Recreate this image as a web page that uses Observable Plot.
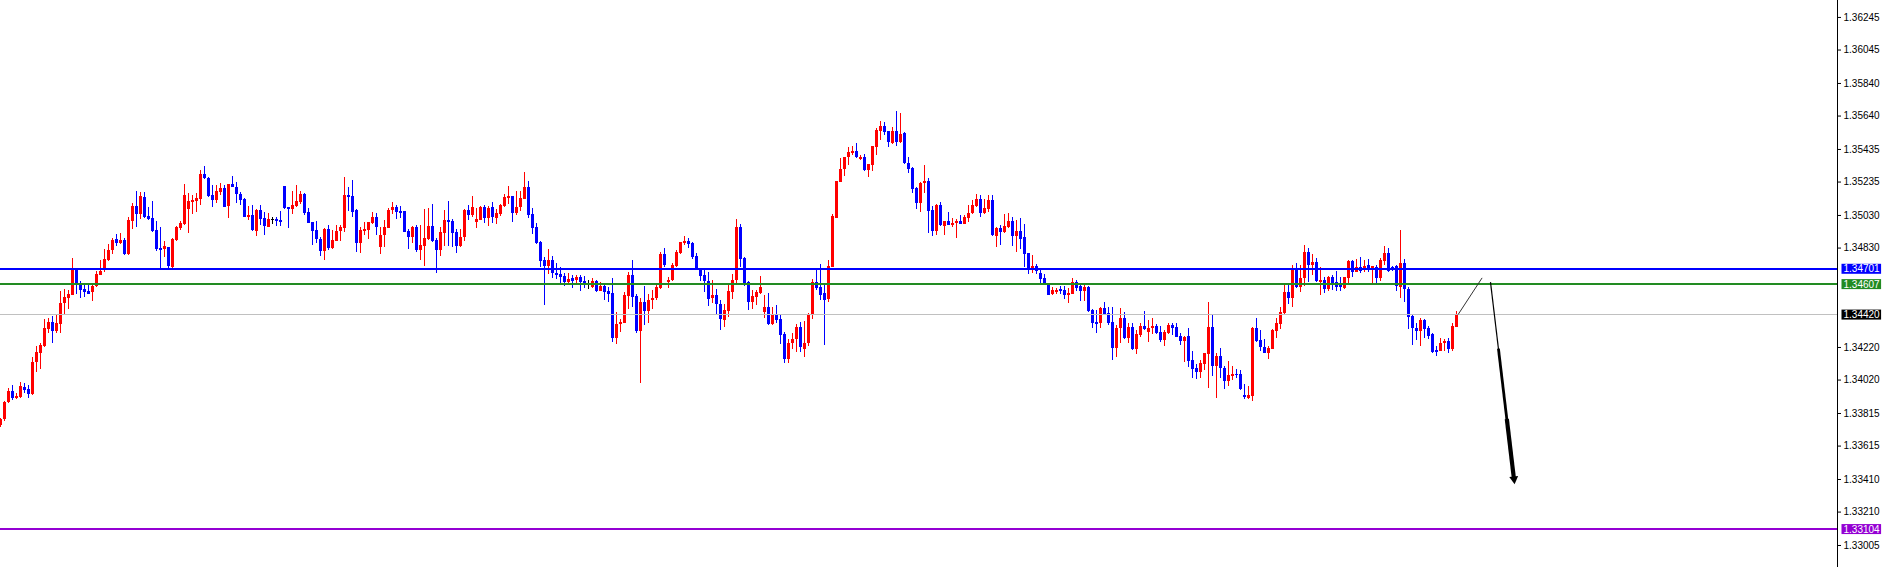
<!DOCTYPE html>
<html><head><meta charset="utf-8">
<script src="https://cdn.jsdelivr.net/npm/d3@7"></script>
<script src="https://cdn.jsdelivr.net/npm/@observablehq/plot@0.6"></script>
<style>html,body{margin:0;padding:0;background:#fff;overflow:hidden}svg{display:block}</style>
</head><body><div id="chart"></div>
<script>
const open = [
1.33742,1.33777,1.33881,1.33950,1.33908,1.33916,1.33973,1.33963,1.33930,1.34126,
1.34186,1.34229,1.34333,1.34374,1.34321,1.34362,1.34488,1.34521,1.34541,1.34699,
1.34611,1.34576,1.34564,1.34560,1.34595,1.34664,1.34703,1.34754,1.34815,1.34881,
1.34856,1.34877,1.34791,1.34993,1.35085,1.35036,1.35143,1.35024,1.35012,1.34938,
1.34828,1.34822,1.34832,1.34713,1.34877,1.34950,1.34975,1.35067,1.35112,1.35116,
1.35128,1.35282,1.35257,1.35153,1.35122,1.35173,1.35198,1.35085,1.35220,1.35204,
1.35159,1.35128,1.35020,1.35030,1.34934,1.35061,1.35012,1.34959,1.35004,1.35004,
1.35000,1.35208,1.35077,1.35067,1.35087,1.35111,1.35158,1.35048,1.34985,1.34937,
1.34882,1.34811,1.34944,1.34829,1.34872,1.34933,1.34952,1.35152,1.35146,1.35060,
1.34860,1.34933,1.34937,1.34982,1.35015,1.34835,1.34907,1.34952,1.35060,1.35077,
1.35054,1.35054,1.34933,1.34897,1.34956,1.34815,1.34839,1.34880,1.34962,1.34876,
1.34815,1.34921,1.34999,1.34995,1.34925,1.34839,1.34893,1.35060,1.35032,1.34989,
1.34999,1.35079,1.35009,1.35077,1.35013,1.35036,1.35085,1.35136,1.35146,1.35044,
1.35077,1.35130,1.35201,1.35036,1.34954,1.34864,1.34753,1.34717,1.34754,1.34676,
1.34668,1.34656,1.34619,1.34646,1.34631,1.34650,1.34625,1.34605,1.34591,1.34625,
1.34566,1.34595,1.34564,1.34550,1.34276,1.34364,1.34370,1.34533,1.34662,1.34535,
1.34317,1.34496,1.34441,1.34509,1.34521,1.34582,1.34791,1.34621,1.34631,1.34717,
1.34795,1.34860,1.34873,1.34858,1.34779,1.34697,1.34664,1.34625,1.34523,1.34539,
1.34486,1.34388,1.34443,1.34560,1.34631,1.34957,1.34768,1.34619,1.34499,1.34529,
1.34554,1.34437,1.34466,1.34364,1.34423,1.34394,1.34300,1.34145,1.34243,1.34267,
1.34340,1.34207,1.34242,1.34416,1.34620,1.34586,1.34549,1.34516,1.34712,1.35013,
1.35234,1.35310,1.35383,1.35408,1.35422,1.35373,1.35385,1.35306,1.35338,1.35449,
1.35545,1.35575,1.35543,1.35473,1.35545,1.35477,1.35530,1.35351,1.35318,1.35195,
1.35105,1.35224,1.35240,1.35060,1.34931,1.35091,1.34964,1.34995,1.34970,1.34980,
1.34993,1.34976,1.35011,1.35040,1.35085,1.35128,1.35040,1.35068,1.35124,1.34903,
1.34952,1.34927,1.34958,1.34991,1.34903,1.34931,1.34894,1.34796,1.34692,1.34719,
1.34676,1.34641,1.34604,1.34545,1.34557,1.34576,1.34569,1.34539,1.34545,1.34619,
1.34592,1.34563,1.34588,1.34447,1.34373,1.34369,1.34459,1.34428,1.34373,1.34216,
1.34336,1.34398,1.34277,1.34342,1.34208,1.34295,1.34349,1.34314,1.34334,1.34349,
1.34312,1.34265,1.34304,1.34355,1.34342,1.34287,1.34259,1.34287,1.34140,1.34091,
1.34066,1.34118,1.34179,1.34342,1.34105,1.34165,1.34091,1.34013,1.34044,1.34056,
1.34054,1.33925,1.33909,1.33921,1.34336,1.34263,1.34222,1.34185,1.34210,1.34320,
1.34363,1.34426,1.34557,1.34522,1.34700,1.34586,1.34643,1.34803,1.34721,1.34741,
1.34621,1.34631,1.34576,1.34647,1.34619,1.34602,1.34584,1.34643,1.34747,1.34682,
1.34713,1.34692,1.34721,1.34704,1.34711,1.34645,1.34749,1.34799,1.34709,1.34717,
1.34590,1.34737,1.34578,1.34410,1.34336,1.34320,1.34385,1.34336,1.34298,1.34201,
1.34197,1.34242,1.34257,1.34205,1.34345];
const high = [
1.33783,1.33891,1.33971,1.33987,1.33936,1.34006,1.33997,1.33987,1.34161,1.34227,
1.34243,1.34390,1.34396,1.34411,1.34415,1.34562,1.34576,1.34570,1.34766,1.34703,
1.34623,1.34605,1.34603,1.34605,1.34687,1.34754,1.34824,1.34850,1.34889,1.34914,
1.34918,1.34887,1.35020,1.35106,1.35177,1.35169,1.35173,1.35081,1.35116,1.34993,
1.34959,1.34873,1.34836,1.34889,1.34963,1.34993,1.35220,1.35167,1.35155,1.35163,
1.35306,1.35331,1.35265,1.35216,1.35214,1.35224,1.35214,1.35220,1.35269,1.35233,
1.35173,1.35137,1.35085,1.35091,1.35065,1.35089,1.35049,1.35040,1.35020,1.35020,
1.35055,1.35208,1.35077,1.35177,1.35214,1.35177,1.35167,1.35072,1.34985,1.34995,
1.34897,1.34952,1.34968,1.34937,1.34968,1.34968,1.35265,1.35203,1.35244,1.35066,
1.34954,1.34985,1.34987,1.35048,1.35040,1.34958,1.34999,1.35070,1.35109,1.35091,
1.35085,1.35054,1.34942,1.34962,1.34968,1.34968,1.35066,1.35070,1.35097,1.34886,
1.34958,1.35060,1.35115,1.35003,1.34944,1.34944,1.35068,1.35089,1.35146,1.35072,
1.35083,1.35091,1.35085,1.35109,1.35066,1.35097,1.35156,1.35207,1.35146,1.35175,
1.35175,1.35293,1.35238,1.35072,1.34978,1.34870,1.34774,1.34822,1.34779,1.34734,
1.34713,1.34672,1.34672,1.34662,1.34660,1.34660,1.34656,1.34631,1.34644,1.34631,
1.34619,1.34603,1.34591,1.34644,1.34433,1.34390,1.34560,1.34683,1.34754,1.34546,
1.34521,1.34595,1.34546,1.34570,1.34603,1.34805,1.34828,1.34652,1.34734,1.34815,
1.34865,1.34903,1.34889,1.34867,1.34799,1.34701,1.34693,1.34681,1.34631,1.34576,
1.34509,1.34484,1.34605,1.34668,1.35006,1.34977,1.34775,1.34627,1.34570,1.34570,
1.34656,1.34539,1.34550,1.34468,1.34478,1.34415,1.34314,1.34267,1.34308,1.34361,
1.34375,1.34379,1.34426,1.34637,1.34692,1.34729,1.34600,1.34753,1.35034,1.35238,
1.35381,1.35383,1.35449,1.35455,1.35473,1.35396,1.35402,1.35342,1.35455,1.35561,
1.35604,1.35598,1.35547,1.35571,1.35668,1.35657,1.35537,1.35387,1.35326,1.35199,
1.35232,1.35336,1.35256,1.35085,1.35095,1.35109,1.34993,1.35048,1.35011,1.35003,
1.35032,1.35032,1.35089,1.35121,1.35158,1.35154,1.35126,1.35154,1.35154,1.34958,
1.34968,1.35036,1.35040,1.35019,1.34999,1.35009,1.34974,1.34796,1.34784,1.34727,
1.34692,1.34668,1.34610,1.34590,1.34580,1.34592,1.34592,1.34580,1.34643,1.34629,
1.34606,1.34600,1.34594,1.34451,1.34447,1.34463,1.34496,1.34463,1.34463,1.34357,
1.34459,1.34435,1.34369,1.34369,1.34324,1.34369,1.34441,1.34385,1.34398,1.34359,
1.34349,1.34324,1.34369,1.34369,1.34369,1.34308,1.34287,1.34336,1.34193,1.34118,
1.34140,1.34183,1.34496,1.34422,1.34181,1.34214,1.34103,1.34134,1.34103,1.34085,
1.34079,1.33993,1.33981,1.34345,1.34398,1.34324,1.34267,1.34226,1.34328,1.34398,
1.34463,1.34600,1.34604,1.34723,1.34733,1.34723,1.34846,1.34825,1.34790,1.34764,
1.34709,1.34647,1.34655,1.34662,1.34686,1.34651,1.34651,1.34754,1.34754,1.34758,
1.34774,1.34754,1.34760,1.34717,1.34723,1.34764,1.34839,1.34825,1.34717,1.34725,
1.34938,1.34758,1.34586,1.34422,1.34369,1.34400,1.34390,1.34349,1.34304,1.34226,
1.34273,1.34267,1.34273,1.34365,1.34443];
const low = [
1.33732,1.33768,1.33875,1.33895,1.33899,1.33905,1.33940,1.33905,1.33926,1.34069,
1.34087,1.34222,1.34308,1.34247,1.34304,1.34304,1.34423,1.34451,1.34537,1.34546,
1.34523,1.34529,1.34544,1.34505,1.34591,1.34660,1.34683,1.34750,1.34791,1.34840,
1.34852,1.34785,1.34787,1.34946,1.34955,1.35008,1.35010,1.35000,1.34926,1.34811,
1.34701,1.34775,1.34705,1.34703,1.34873,1.34938,1.34971,1.34920,1.35034,1.35051,
1.35094,1.35251,1.35143,1.35081,1.35102,1.35153,1.35077,1.35012,1.35204,1.35106,
1.35092,1.35016,1.35000,1.34932,1.34901,1.34967,1.34907,1.34955,1.34975,1.34963,
1.34963,1.35065,1.34950,1.35036,1.35081,1.35097,1.35030,1.34978,1.34845,1.34856,
1.34778,1.34753,1.34815,1.34821,1.34870,1.34872,1.34927,1.35054,1.35019,1.34805,
1.34798,1.34907,1.34882,1.34974,1.34907,1.34792,1.34835,1.34948,1.35036,1.35005,
1.35013,1.34923,1.34821,1.34856,1.34803,1.34753,1.34717,1.34876,1.34866,1.34672,
1.34778,1.34839,1.34839,1.34835,1.34798,1.34831,1.34872,1.34999,1.35015,1.34950,
1.34999,1.34978,1.34962,1.34982,1.34974,1.35023,1.35081,1.35097,1.34989,1.35027,
1.35056,1.35126,1.35011,1.34913,1.34852,1.34708,1.34477,1.34668,1.34642,1.34636,
1.34615,1.34595,1.34615,1.34584,1.34611,1.34564,1.34584,1.34578,1.34584,1.34558,
1.34564,1.34509,1.34496,1.34251,1.34239,1.34312,1.34366,1.34454,1.34468,1.34308,
1.34002,1.34355,1.34368,1.34454,1.34509,1.34578,1.34713,1.34584,1.34627,1.34713,
1.34791,1.34846,1.34826,1.34762,1.34693,1.34625,1.34560,1.34474,1.34488,1.34423,
1.34325,1.34345,1.34406,1.34515,1.34611,1.34713,1.34595,1.34447,1.34456,1.34476,
1.34544,1.34400,1.34355,1.34355,1.34370,1.34239,1.34124,1.34124,1.34210,1.34191,
1.34191,1.34160,1.34226,1.34389,1.34569,1.34508,1.34232,1.34496,1.34712,1.35013,
1.35234,1.35269,1.35338,1.35398,1.35379,1.35367,1.35301,1.35265,1.35301,1.35398,
1.35490,1.35522,1.35445,1.35465,1.35453,1.35469,1.35340,1.35285,1.35162,1.35068,
1.35050,1.35162,1.34921,1.34903,1.34905,1.34962,1.34907,1.34966,1.34958,1.34890,
1.34974,1.34972,1.34987,1.35036,1.35081,1.35019,1.35034,1.35048,1.34901,1.34835,
1.34845,1.34921,1.34948,1.34841,1.34805,1.34821,1.34712,1.34665,1.34676,1.34665,
1.34610,1.34598,1.34539,1.34539,1.34545,1.34545,1.34514,1.34492,1.34545,1.34563,
1.34504,1.34504,1.34437,1.34338,1.34308,1.34338,1.34420,1.34357,1.34142,1.34160,
1.34246,1.34269,1.34242,1.34201,1.34179,1.34283,1.34324,1.34250,1.34298,1.34302,
1.34253,1.34226,1.34300,1.34295,1.34279,1.34234,1.34130,1.34099,1.34032,1.34026,
1.34032,1.34079,1.33970,1.34042,1.33909,1.34032,1.33962,1.33983,1.34017,1.34032,
1.33956,1.33903,1.33903,1.33891,1.34250,1.34195,1.34183,1.34148,1.34205,1.34275,
1.34328,1.34416,1.34484,1.34467,1.34580,1.34559,1.34594,1.34621,1.34662,1.34621,
1.34539,1.34553,1.34561,1.34569,1.34561,1.34565,1.34574,1.34614,1.34647,1.34682,
1.34676,1.34682,1.34682,1.34610,1.34614,1.34627,1.34723,1.34680,1.34684,1.34563,
1.34522,1.34498,1.34332,1.34232,1.34263,1.34226,1.34273,1.34267,1.34181,1.34167,
1.34195,1.34197,1.34181,1.34195,1.34340];
const close = [
1.33777,1.33881,1.33950,1.33910,1.33920,1.33981,1.33957,1.33930,1.34128,1.34190,
1.34233,1.34337,1.34374,1.34321,1.34368,1.34488,1.34527,1.34546,1.34699,1.34611,
1.34570,1.34558,1.34548,1.34595,1.34668,1.34689,1.34760,1.34815,1.34877,1.34856,
1.34877,1.34791,1.35000,1.35085,1.35036,1.35149,1.35016,1.35006,1.34932,1.34820,
1.34822,1.34840,1.34715,1.34883,1.34957,1.34983,1.35153,1.35116,1.35122,1.35135,
1.35282,1.35257,1.35149,1.35124,1.35180,1.35198,1.35081,1.35220,1.35204,1.35157,
1.35122,1.35020,1.35030,1.34938,1.35061,1.35006,1.34965,1.35006,1.35004,1.34995,
1.34995,1.35075,1.35067,1.35091,1.35118,1.35156,1.35044,1.34982,1.34933,1.34880,
1.34811,1.34944,1.34827,1.34874,1.34931,1.34956,1.35152,1.35142,1.35050,1.34860,
1.34937,1.34944,1.34987,1.35015,1.34954,1.34907,1.34956,1.35060,1.35079,1.35048,
1.35050,1.34927,1.34897,1.34954,1.34815,1.34845,1.34888,1.34962,1.34872,1.34815,
1.34925,1.34999,1.34987,1.34921,1.34839,1.34895,1.35060,1.35030,1.35077,1.35005,
1.35079,1.35009,1.35072,1.35015,1.35040,1.35091,1.35138,1.35148,1.35044,1.35079,
1.35134,1.35201,1.35027,1.34952,1.34856,1.34749,1.34717,1.34754,1.34676,1.34660,
1.34650,1.34619,1.34638,1.34625,1.34650,1.34619,1.34605,1.34605,1.34625,1.34564,
1.34595,1.34560,1.34546,1.34276,1.34362,1.34376,1.34539,1.34662,1.34529,1.34317,
1.34496,1.34441,1.34509,1.34521,1.34591,1.34791,1.34723,1.34633,1.34721,1.34803,
1.34865,1.34873,1.34852,1.34775,1.34697,1.34656,1.34625,1.34515,1.34539,1.34484,
1.34394,1.34447,1.34564,1.34631,1.34957,1.34762,1.34611,1.34499,1.34535,1.34560,
1.34591,1.34466,1.34362,1.34423,1.34386,1.34296,1.34145,1.34243,1.34269,1.34340,
1.34218,1.34242,1.34416,1.34620,1.34580,1.34539,1.34508,1.34719,1.35025,1.35238,
1.35312,1.35383,1.35416,1.35422,1.35383,1.35385,1.35306,1.35342,1.35455,1.35551,
1.35575,1.35541,1.35477,1.35543,1.35477,1.35524,1.35346,1.35314,1.35189,1.35105,
1.35226,1.35240,1.35056,1.34933,1.35091,1.34966,1.34993,1.34970,1.34980,1.34991,
1.34976,1.35019,1.35042,1.35091,1.35128,1.35040,1.35074,1.35124,1.34907,1.34952,
1.34927,1.34962,1.34991,1.34903,1.34931,1.34882,1.34788,1.34696,1.34717,1.34684,
1.34635,1.34604,1.34539,1.34569,1.34569,1.34563,1.34539,1.34551,1.34619,1.34580,
1.34563,1.34586,1.34443,1.34369,1.34369,1.34459,1.34424,1.34369,1.34216,1.34336,
1.34398,1.34277,1.34342,1.34208,1.34300,1.34351,1.34328,1.34336,1.34349,1.34308,
1.34265,1.34312,1.34355,1.34338,1.34283,1.34259,1.34281,1.34134,1.34087,1.34066,
1.34122,1.34183,1.34342,1.34105,1.34165,1.34091,1.34013,1.34048,1.34056,1.34048,
1.33962,1.33911,1.33925,1.34336,1.34257,1.34218,1.34185,1.34214,1.34324,1.34365,
1.34435,1.34557,1.34522,1.34700,1.34586,1.34643,1.34803,1.34721,1.34743,1.34627,
1.34631,1.34576,1.34651,1.34610,1.34590,1.34590,1.34647,1.34747,1.34682,1.34713,
1.34688,1.34717,1.34694,1.34717,1.34645,1.34754,1.34799,1.34686,1.34692,1.34594,
1.34733,1.34574,1.34406,1.34334,1.34320,1.34385,1.34332,1.34289,1.34189,1.34197,
1.34244,1.34257,1.34210,1.34349,1.34420];

// price-axis tick labels (MT4-style)
const yTicks = [1.36245,1.36045,1.35840,1.35640,1.35435,1.35235,1.35030,1.34830,1.34220,1.34020,1.33815,1.33615,1.33410,1.33210,1.33005];
// horizontal levels: price, line colour, box colour
const levelPrices = [1.34701, 1.34607, 1.34420, 1.33104];
const levelLineColors = ["#0000ff", "#228b22", "#c0c0c0", "#9400d3"];
const levelBoxColors = ["#0000ff", "#228b22", "#000000", "#9400d3"];
const levelLineWidths = [2, 2, 1, 2];
// drawn objects (bar index, price)
const trendFrom = [364.4, 1.34422], trendTo = [370.4, 1.34647];
const arrowFrom = [372.5, 1.34621], arrowTo = [378.5, 1.33385];

const candles = open.map((o, i) => ({i, o, h: high[i], l: low[i], c: close[i]}));
const col = d => d.c > d.o ? "#ff0000" : d.c < d.o ? "#0000ff" : "#000000";
const levels = levelPrices.map((p, k) => ({p, line: levelLineColors[k], box: levelBoxColors[k], w: levelLineWidths[k]}));

// tapered arrow shaft: three pieces of growing width along the drawn arrow
const lerp = t => [arrowFrom[0] + (arrowTo[0] - arrowFrom[0]) * t, arrowFrom[1] + (arrowTo[1] - arrowFrom[1]) * t];
const shaft = [[0, 0.35, 1.2], [0.33, 0.7, 2.8], [0.68, 0.97, 4.2]].map(([t0, t1, w]) => ({a: lerp(t0), b: lerp(t1), w}));
const angle = 180 - Math.atan2((arrowTo[0] - arrowFrom[0]) * 4, (arrowFrom[1] - arrowTo[1]) / 0.00006136) * 180 / Math.PI;

const plot = Plot.plot({
  width: 1885, height: 567,
  marginLeft: 0, marginRight: 48, marginTop: 0, marginBottom: 0,
  style: {fontFamily: "'Liberation Sans', Arial, sans-serif", fontSize: "10px", background: "#fff", color: "#000"},
  x: {type: "linear", domain: [0, 459.25], range: [0, 1837], axis: null},
  y: {domain: [1.32870, 1.36349], axis: null},
  marks: [
    Plot.ruleX(candles, {x: "i", y1: "l", y2: "h", stroke: col, strokeWidth: 1, shapeRendering: "crispEdges"}),
    Plot.ruleX(candles, {x: "i", y1: "o", y2: "c", stroke: col, strokeWidth: 3, strokeLinecap: "butt", shapeRendering: "crispEdges"}),
    Plot.ruleY(candles.filter(d => Math.abs(d.o - d.c) < 0.00007), {y: "c", x1: d => d.i - 0.375, x2: d => d.i + 0.375, stroke: col, shapeRendering: "crispEdges"}),
    ...levels.map(L => Plot.ruleY([L.p], {stroke: L.line, strokeWidth: L.w, shapeRendering: "crispEdges"})),
    Plot.link([{a: trendFrom, b: trendTo}], {x1: d => d.a[0], y1: d => d.a[1], x2: d => d.b[0], y2: d => d.b[1], stroke: "#333", strokeWidth: 1}),
    Plot.link(shaft, {x1: d => d.a[0], y1: d => d.a[1], x2: d => d.b[0], y2: d => d.b[1], stroke: "#000", strokeWidth: d => d.w}),
    Plot.dot([arrowTo], {x: d => d[0], y: d => d[1], symbol: "triangle", r: 3.3, fill: "#000", stroke: "none", rotate: angle, dx: -0.5, dy: -4.5}),
    Plot.frame({anchor: "right", stroke: "#000"}),
    Plot.axisY({anchor: "right", ticks: yTicks, tickFormat: d => d.toFixed(5), tickSize: 3, tickPadding: 3, fontSize: 10, fill: "#000", stroke: "#000"}),
    Plot.text(levels, {y: "p", text: d => d.p.toFixed(5), frameAnchor: "right", textAnchor: "start", dx: 6, fill: "#fff", fontSize: 10, className: "pricebox"})
  ]
});
document.getElementById("chart").append(plot);
// colour backgrounds behind the price boxes
d3.select(plot).selectAll(".pricebox text").each(function(_, k) {
  const b = this.getBBox();
  const r = document.createElementNS("http://www.w3.org/2000/svg", "rect");
  r.setAttribute("x", b.x - 2);
  r.setAttribute("y", b.y + 0.5);
  r.setAttribute("width", b.width + 3);
  r.setAttribute("height", b.height - 1);
  r.setAttribute("fill", levels[k].box);
  const t = this.getAttribute("transform");
  if (t) r.setAttribute("transform", t);
  this.parentNode.insertBefore(r, this);
});
</script>
</body></html>
